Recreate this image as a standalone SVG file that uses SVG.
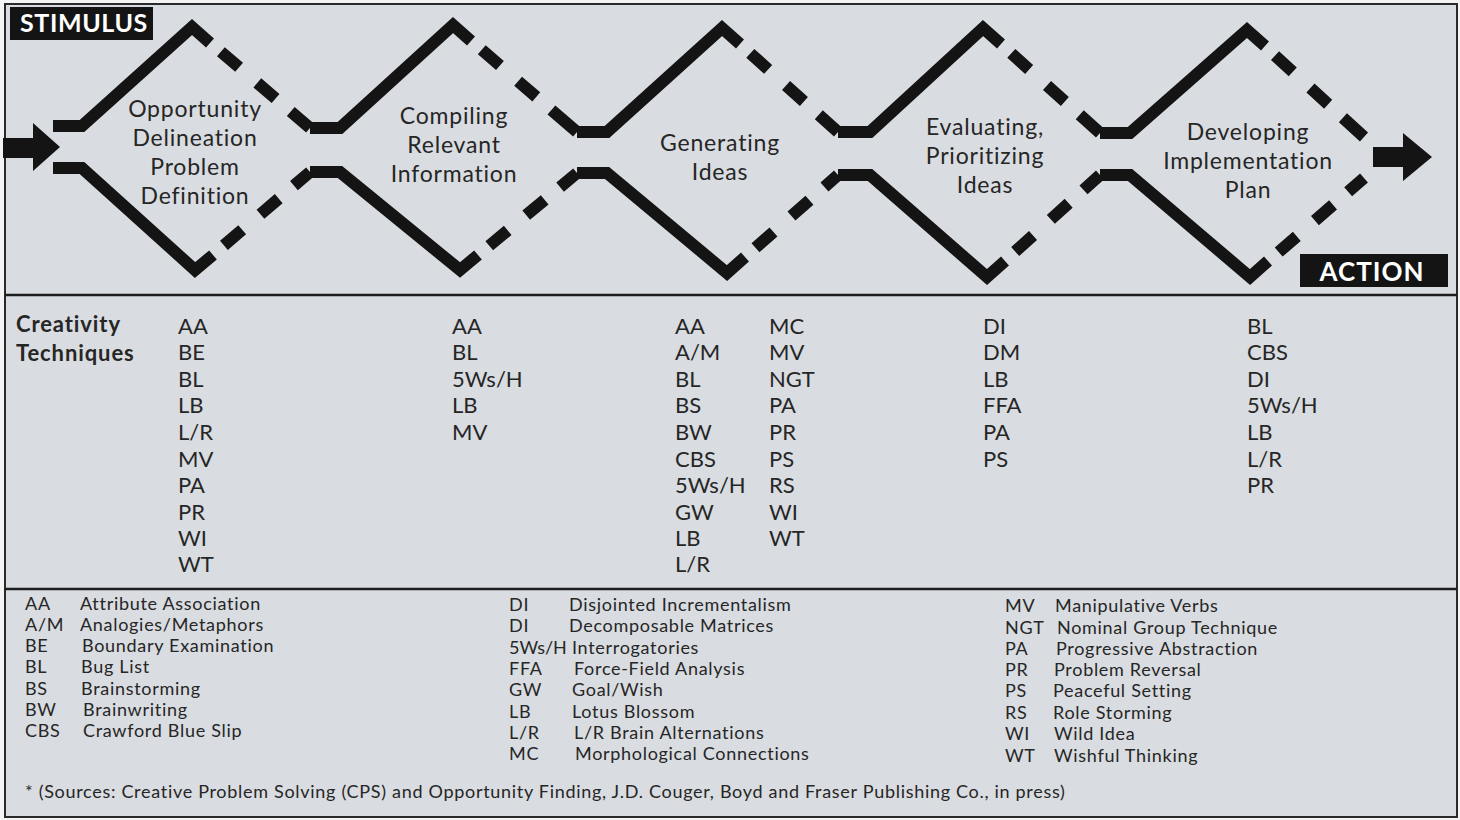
<svg xmlns="http://www.w3.org/2000/svg" width="1460" height="820" viewBox="0 0 1460 820">
<defs>
<style>
.bg{fill:#d9dce0}
.frame{fill:none;stroke:#2a2a2a;stroke-width:2}
.div{stroke:#1e1e1e;stroke-width:2.5}
.solid{fill:none;stroke:#141414;stroke-width:12;stroke-linejoin:miter;stroke-linecap:butt}
.dash{fill:none;stroke:#141414;stroke-width:12;stroke-linecap:butt;stroke-dasharray:0 38 24 24 24 20 200}
.arrow{fill:#141414}
.lbl{font-family:Lato,"Liberation Sans",sans-serif;font-size:23px;letter-spacing:0.8px;fill:#262626;text-anchor:middle}
.tag{fill:#141414}
.tagt{font-family:Lato,"Liberation Sans",sans-serif;font-weight:bold;font-size:25px;letter-spacing:0.6px;fill:#ffffff}
.hdr{font-family:Lato,"Liberation Sans",sans-serif;font-weight:bold;font-size:22px;letter-spacing:0.9px;fill:#262626}
.col{font-family:Lato,"Liberation Sans",sans-serif;font-size:22px;fill:#262626}
.leg{font-family:Lato,"Liberation Sans",sans-serif;font-size:18px;letter-spacing:0.7px;fill:#262626}
</style>
</defs>
<rect x="0" y="0" width="1460" height="820" fill="#f4f4f4"/>
<rect class="bg" x="5" y="4" width="1452" height="813"/>
<rect class="frame" x="5" y="4" width="1452" height="813"/>
<line class="div" x1="5" y1="295" x2="1457" y2="295"/>
<line class="div" x1="5" y1="589" x2="1457" y2="589"/>

<g id="connectors">
<polygon id="arrow-in" class="arrow" points="3,138 33,138 33,123 60,147 33,171 33,158 3,158"/>
<polygon id="arrow-out" class="arrow" points="1373,147 1403,147 1403,133 1432,157 1403,181 1403,167 1373,167"/>
</g>

<g id="stimulus">
<rect class="tag" x="10" y="7" width="143" height="33"/>
<text class="tagt" x="20" y="32">STIMULUS</text>
</g>
<g id="action">
<rect class="tag" x="1300" y="254" width="148" height="33"/>
<text class="tagt" x="1372" y="281" text-anchor="middle" style="font-size:26px;letter-spacing:1px">ACTION</text>
</g>

<g id="stage1">
<path class="solid" d="M53,126 H82 L192,27 L210,43"/>
<path class="dash" d="M192,27 L310,128"/>
<path class="solid" d="M53,168 H82 L195,270 L213,255"/>
<path class="dash" d="M195,270 L310,172"/>
<text class="lbl" x="195" y="117">Opportunity</text>
<text class="lbl" x="195" y="146">Delineation</text>
<text class="lbl" x="195" y="175">Problem</text>
<text class="lbl" x="195" y="204">Definition</text>
</g>

<g id="stage2">
<path class="solid" d="M310,128 H340 L453,25 L471,41"/>
<path class="dash" d="M453,25 L577,132"/>
<path class="solid" d="M310,172 H340 L460,270 L478,255"/>
<path class="dash" d="M460,270 L577,173"/>
<text class="lbl" x="454" y="124">Compiling</text>
<text class="lbl" x="454" y="153">Relevant</text>
<text class="lbl" x="454" y="182">Information</text>
</g>

<g id="stage3">
<path class="solid" d="M577,132 H607 L722,28 L740,44"/>
<path class="dash" d="M722,28 L838,132"/>
<path class="solid" d="M577,173 H607 L727,273 L745,257"/>
<path class="dash" d="M727,273 L838,175"/>
<text class="lbl" x="720" y="151">Generating</text>
<text class="lbl" x="720" y="180">Ideas</text>
</g>

<g id="stage4">
<path class="solid" d="M838,132 H870 L983,28 L1001,44"/>
<path class="dash" d="M983,28 L1100,133"/>
<path class="solid" d="M838,175 H870 L987,277 L1005,261"/>
<path class="dash" d="M987,277 L1100,175"/>
<text class="lbl" x="985" y="135">Evaluating,</text>
<text class="lbl" x="985" y="164">Prioritizing</text>
<text class="lbl" x="985" y="193">Ideas</text>
</g>

<g id="stage5">
<path class="solid" d="M1100,133 H1130 L1247,30 L1265,46"/>
<path class="dash" d="M1247,30 L1364,137"/>
<path class="solid" d="M1100,175 H1130 L1250,277 L1268,261"/>
<path class="dash" d="M1250,277 L1364,178"/>
<text class="lbl" x="1248" y="140">Developing</text>
<text class="lbl" x="1248" y="169">Implementation</text>
<text class="lbl" x="1248" y="198">Plan</text>
</g>

<g id="techniques-header">
<text class="hdr" x="16" y="332">Creativity</text>
<text class="hdr" x="16" y="361">Techniques</text>
</g>

<g id="techniques-col1">
<text class="col" x="178" y="334">AA</text>
<text class="col" x="178" y="360">BE</text>
<text class="col" x="178" y="387">BL</text>
<text class="col" x="178" y="413">LB</text>
<text class="col" x="178" y="440">L/R</text>
<text class="col" x="178" y="467">MV</text>
<text class="col" x="178" y="493">PA</text>
<text class="col" x="178" y="520">PR</text>
<text class="col" x="178" y="546">WI</text>
<text class="col" x="178" y="572">WT</text>
</g>
<g id="techniques-col2">
<text class="col" x="452" y="334">AA</text>
<text class="col" x="452" y="360">BL</text>
<text class="col" x="452" y="387">5Ws/H</text>
<text class="col" x="452" y="413">LB</text>
<text class="col" x="452" y="440">MV</text>
</g>
<g id="techniques-col3">
<text class="col" x="675" y="334">AA</text>
<text class="col" x="675" y="360">A/M</text>
<text class="col" x="675" y="387">BL</text>
<text class="col" x="675" y="413">BS</text>
<text class="col" x="675" y="440">BW</text>
<text class="col" x="675" y="467">CBS</text>
<text class="col" x="675" y="493">5Ws/H</text>
<text class="col" x="675" y="520">GW</text>
<text class="col" x="675" y="546">LB</text>
<text class="col" x="675" y="572">L/R</text>
<text class="col" x="769" y="334">MC</text>
<text class="col" x="769" y="360">MV</text>
<text class="col" x="769" y="387">NGT</text>
<text class="col" x="769" y="413">PA</text>
<text class="col" x="769" y="440">PR</text>
<text class="col" x="769" y="467">PS</text>
<text class="col" x="769" y="493">RS</text>
<text class="col" x="769" y="520">WI</text>
<text class="col" x="769" y="546">WT</text>
</g>
<g id="techniques-col4">
<text class="col" x="983" y="334">DI</text>
<text class="col" x="983" y="360">DM</text>
<text class="col" x="983" y="387">LB</text>
<text class="col" x="983" y="413">FFA</text>
<text class="col" x="983" y="440">PA</text>
<text class="col" x="983" y="467">PS</text>
</g>
<g id="techniques-col5">
<text class="col" x="1247" y="334">BL</text>
<text class="col" x="1247" y="360">CBS</text>
<text class="col" x="1247" y="387">DI</text>
<text class="col" x="1247" y="413">5Ws/H</text>
<text class="col" x="1247" y="440">LB</text>
<text class="col" x="1247" y="467">L/R</text>
<text class="col" x="1247" y="493">PR</text>
</g>

<g id="legend-a">
<text class="leg" x="25" y="610">AA</text><text class="leg" x="80" y="610">Attribute Association</text>
<text class="leg" x="25" y="631">A/M</text><text class="leg" x="80" y="631">Analogies/Metaphors</text>
<text class="leg" x="25" y="652">BE</text><text class="leg" x="82" y="652">Boundary Examination</text>
<text class="leg" x="25" y="673">BL</text><text class="leg" x="81" y="673">Bug List</text>
<text class="leg" x="25" y="695">BS</text><text class="leg" x="81" y="695">Brainstorming</text>
<text class="leg" x="25" y="716">BW</text><text class="leg" x="83" y="716">Brainwriting</text>
<text class="leg" x="25" y="737">CBS</text><text class="leg" x="83" y="737">Crawford Blue Slip</text>
</g>
<g id="legend-b">
<text class="leg" x="509" y="611">DI</text><text class="leg" x="569" y="611">Disjointed Incrementalism</text>
<text class="leg" x="509" y="632">DI</text><text class="leg" x="569" y="632">Decomposable Matrices</text>
<text class="leg" x="509" y="654" style="letter-spacing:0">5Ws/H</text><text class="leg" x="572" y="654">Interrogatories</text>
<text class="leg" x="509" y="675">FFA</text><text class="leg" x="574" y="675">Force-Field Analysis</text>
<text class="leg" x="509" y="696">GW</text><text class="leg" x="572" y="696">Goal/Wish</text>
<text class="leg" x="509" y="718">LB</text><text class="leg" x="572" y="718">Lotus Blossom</text>
<text class="leg" x="509" y="739">L/R</text><text class="leg" x="574" y="739">L/R Brain Alternations</text>
<text class="leg" x="509" y="760">MC</text><text class="leg" x="575" y="760">Morphological Connections</text>
</g>
<g id="legend-c">
<text class="leg" x="1005" y="612">MV</text><text class="leg" x="1055" y="612">Manipulative Verbs</text>
<text class="leg" x="1005" y="634">NGT</text><text class="leg" x="1057" y="634">Nominal Group Technique</text>
<text class="leg" x="1005" y="655">PA</text><text class="leg" x="1056" y="655">Progressive Abstraction</text>
<text class="leg" x="1005" y="676">PR</text><text class="leg" x="1054" y="676">Problem Reversal</text>
<text class="leg" x="1005" y="697">PS</text><text class="leg" x="1053" y="697">Peaceful Setting</text>
<text class="leg" x="1005" y="719">RS</text><text class="leg" x="1053" y="719">Role Storming</text>
<text class="leg" x="1005" y="740">WI</text><text class="leg" x="1054" y="740">Wild Idea</text>
<text class="leg" x="1005" y="762">WT</text><text class="leg" x="1054" y="762">Wishful Thinking</text>
</g>
<g id="footnote">
<text class="leg" x="25" y="798">* (Sources: Creative Problem Solving (CPS) and Opportunity Finding, J.D. Couger, Boyd and Fraser Publishing Co., in press)</text>
</g>
</svg>
